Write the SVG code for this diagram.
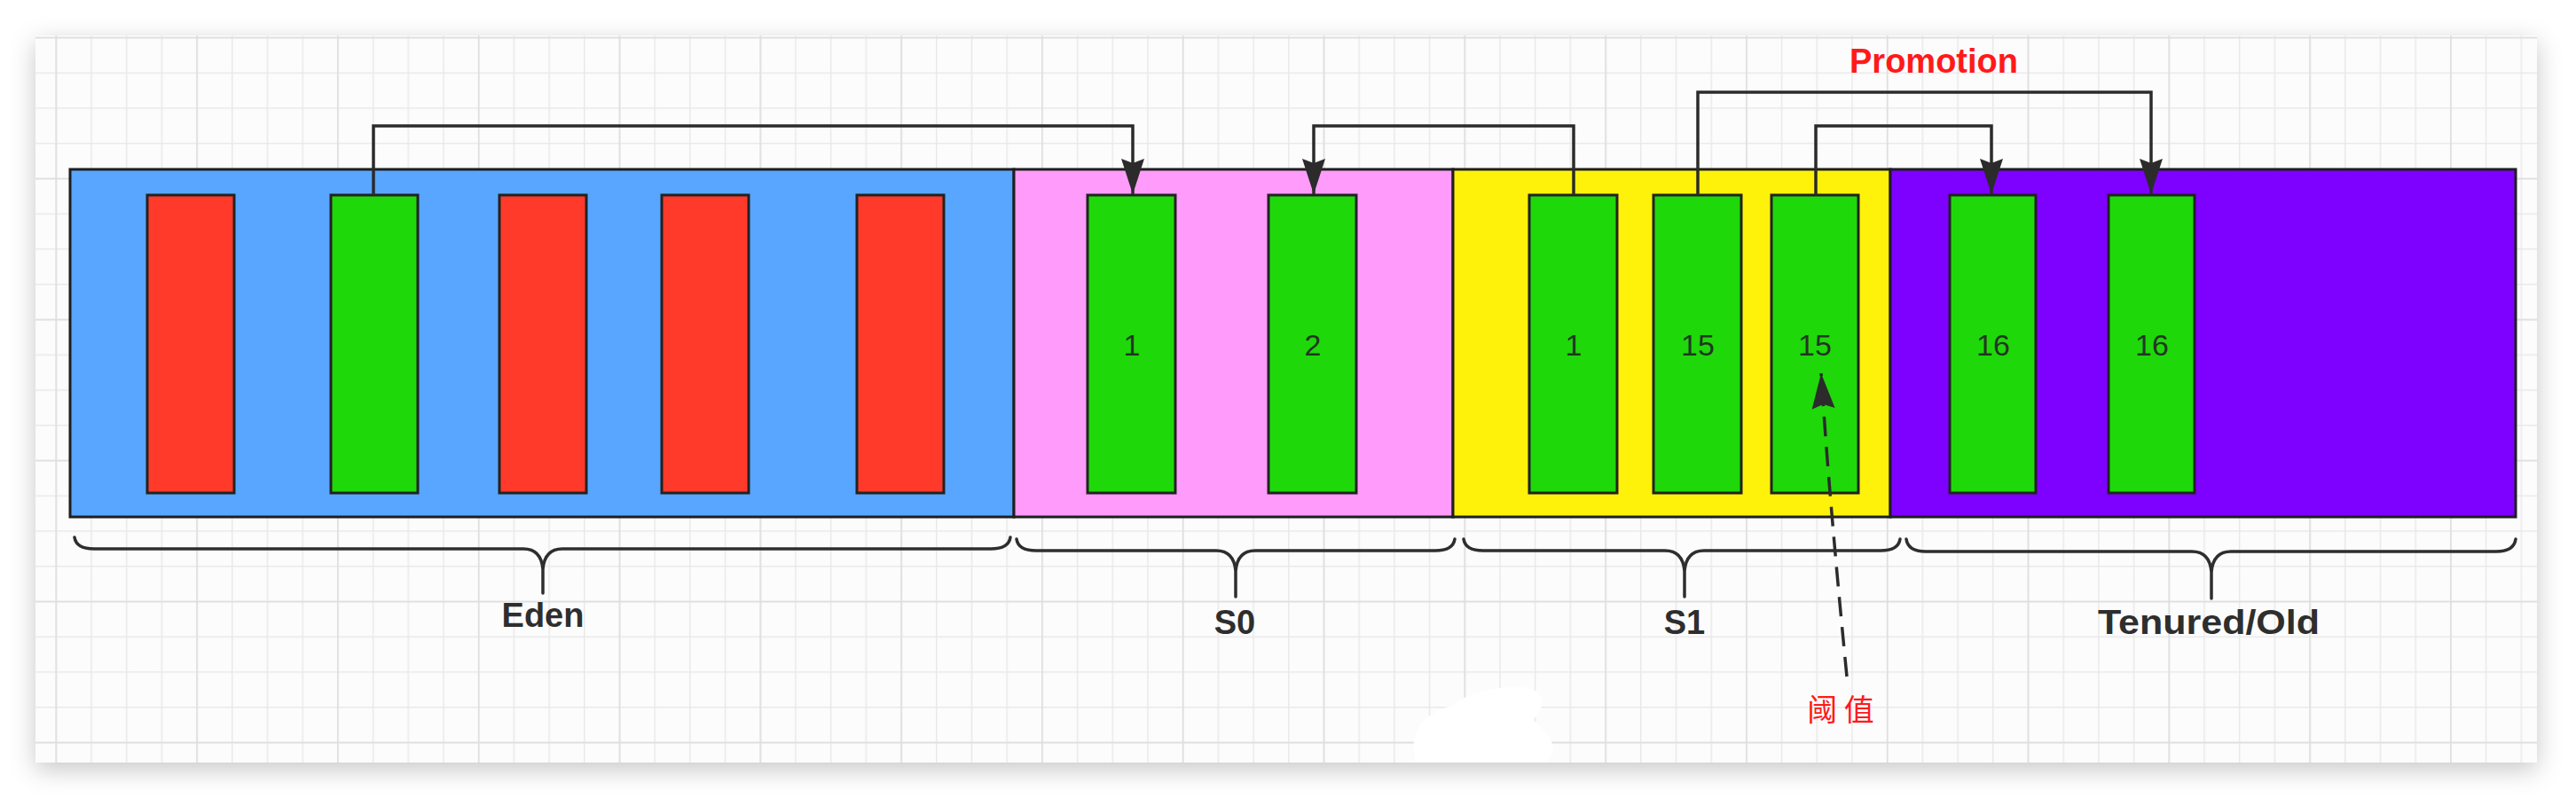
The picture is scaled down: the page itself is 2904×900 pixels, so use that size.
<svg xmlns="http://www.w3.org/2000/svg" width="2904" height="900" viewBox="0 0 2904 900">
<defs>
<filter id="sh" x="-5%" y="-20%" width="110%" height="140%">
<feDropShadow dx="0" dy="8" stdDeviation="14" flood-color="#000" flood-opacity="0.22"/>
</filter>
<pattern id="gmin" x="62.5" y="41.7" width="39.7" height="39.75" patternUnits="userSpaceOnUse">
<path d="M0.75,0 V39.75 M0,0.75 H39.7" stroke="#e9e9e9" stroke-width="1.5" fill="none"/>
</pattern>
<pattern id="gmaj" x="62.5" y="41.7" width="158.8" height="159" patternUnits="userSpaceOnUse">
<path d="M0.75,0 V159 M0,0.75 H158.8" stroke="#dedede" stroke-width="1.5" fill="none"/>
</pattern>
<marker id="ah" markerWidth="42" markerHeight="28" refX="40" refY="14" orient="auto" markerUnits="userSpaceOnUse">
<path d="M0,1 L40,14 L0,27 L5,14 Z" fill="#2b2b2b"/>
</marker>
<style>
.region{stroke:#1e1e1e;stroke-width:3}
.cell{stroke:#222;stroke-width:3}
.g{fill:#1fd80a}
.r{fill:#ff3a2b}
.num{font-family:"Liberation Sans",Arial,sans-serif;font-size:34px;fill:#243524;text-anchor:middle}
.lbl{font-family:"Liberation Sans",Arial,sans-serif;font-size:38px;font-weight:bold;fill:#2e2e2e;text-anchor:middle}
.conn{fill:none;stroke:#2b2b2b;stroke-width:3.5}
.brace{fill:none;stroke:#2e2e2e;stroke-width:3.5;stroke-linecap:round}
.red{font-family:"Liberation Sans","Noto Sans CJK SC",sans-serif;fill:#ff1a1a;text-anchor:middle}
</style>
</defs>
<rect x="0" y="0" width="2904" height="900" fill="#ffffff"/>
<rect x="40" y="40" width="2820" height="820" fill="#fcfcfc" filter="url(#sh)"/>
<rect x="40" y="40" width="2820" height="820" fill="url(#gmin)"/>
<rect x="40" y="40" width="2820" height="820" fill="url(#gmaj)"/>
<path d="M1596,860 C1588,828 1600,805 1640,795 C1655,778 1715,768 1732,780 C1746,792 1734,806 1728,812 C1745,826 1762,846 1742,860 Z" fill="#ffffff"/>

<g id="eden">
<rect class="region" x="79" y="191" width="1064" height="392" fill="#58a6ff"/>
<rect class="cell r" x="166" y="220" width="98" height="336"/>
<rect class="cell g" x="373" y="220" width="98" height="336"/>
<rect class="cell r" x="563" y="220" width="98" height="336"/>
<rect class="cell r" x="746" y="220" width="98" height="336"/>
<rect class="cell r" x="966" y="220" width="98" height="336"/>
</g>
<g id="s0">
<rect class="region" x="1143" y="191" width="495" height="392" fill="#ff9bfa"/>
<rect class="cell g" x="1226" y="220" width="99" height="336"/>
<text class="num" x="1276" y="401">1</text>
<rect class="cell g" x="1430" y="220" width="99" height="336"/>
<text class="num" x="1480" y="401">2</text>
</g>
<g id="s1">
<rect class="region" x="1638" y="191" width="493" height="392" fill="#fff20a"/>
<rect class="cell g" x="1724" y="220" width="99" height="336"/>
<text class="num" x="1774" y="401">1</text>
<rect class="cell g" x="1864" y="220" width="99" height="336"/>
<text class="num" x="1914" y="401">15</text>
<rect class="cell g" x="1997" y="220" width="98" height="336"/>
<text class="num" x="2046" y="401">15</text>
</g>
<g id="old">
<rect class="region" x="2131" y="191" width="705" height="392" fill="#7e00ff"/>
<rect class="cell g" x="2198" y="220" width="97" height="336"/>
<text class="num" x="2247" y="401">16</text>
<rect class="cell g" x="2377" y="220" width="97" height="336"/>
<text class="num" x="2426" y="401">16</text>
</g>

<g id="connectors">
<path class="conn" d="M421,220 V142 H1277 V219" marker-end="url(#ah)"/>
<path class="conn" d="M1774,220 V142 H1481 V219" marker-end="url(#ah)"/>
<path class="conn" d="M1914,220 V104 H2425 V219" marker-end="url(#ah)"/>
<path class="conn" d="M2047,220 V142 H2245 V219" marker-end="url(#ah)"/>
<path class="conn" d="M2082,763 Q2062,560 2053,421" stroke-dasharray="22 12" stroke-width="3" marker-end="url(#ah)"/>
</g>

<g id="braces">
<path class="brace" d="M84,606 Q86,619 106,619 L590,619 Q610,619 612,642 L612,669 M612,642 Q614,619 634,619 L1117,619 Q1137,619 1139,606"/>
<path class="brace" d="M1146,608 Q1148,621 1168,621 L1371,621 Q1391,621 1393,644 L1393,673 M1393,644 Q1395,621 1415,621 L1618,621 Q1638,621 1640,608"/>
<path class="brace" d="M1650,608 Q1652,621 1672,621 L1877,621 Q1897,621 1899,644 L1899,673 M1899,644 Q1901,621 1921,621 L2120,621 Q2140,621 2142,608"/>
<path class="brace" d="M2149,608 Q2151,622 2171,622 L2471,622 Q2491,622 2493,645 L2493,675 M2493,645 Q2495,622 2515,622 L2814,622 Q2834,622 2836,608"/>
</g>

<g id="labels">
<text class="lbl" x="612" y="707">Eden</text>
<text class="lbl" x="1392" y="715">S0</text>
<text class="lbl" x="1899" y="715">S1</text>
<text class="lbl" x="2490" y="715" textLength="250" lengthAdjust="spacingAndGlyphs">Tenured/Old</text>
<text class="red" x="2180" y="82" font-size="38" font-weight="bold">Promotion</text>
<text class="red" x="2075" y="813" font-size="34" style="font-family:'Noto Sans CJK SC',sans-serif">阈 值</text>
</g>
</svg>
